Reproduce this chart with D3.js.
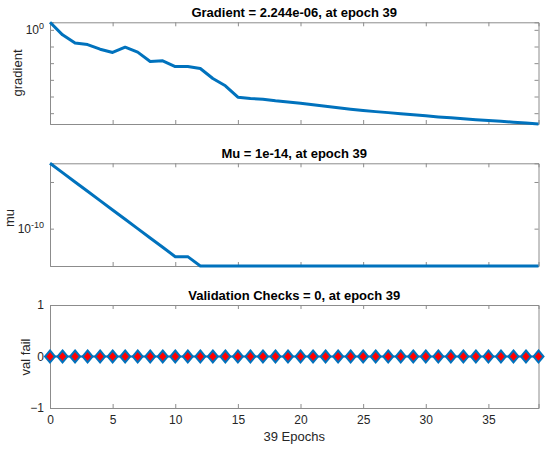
<!DOCTYPE html>
<html>
<head>
<meta charset="utf-8">
<script src="https://cdn.jsdelivr.net/npm/d3@7"></script>
<style>
body { margin: 0; background: #fff; }
text { font-family: "Liberation Sans", Arial, sans-serif; }
</style>
</head>
<body>
<svg id="chart"></svg>
<script>
// epochs 0..39
const epochs = d3.range(0, 40);

const gradient = [2.83, 0.50, 0.16, 0.13, 0.069, 0.044, 0.091, 0.046, 0.0126, 0.0138,
    0.0063, 0.0063, 0.0048, 0.0012, 4.4e-4, 9.1e-5, 7.6e-5, 6.9e-5, 5.5e-5, 4.7e-5,
    4.0e-5, 3.2e-5, 2.6e-5, 2.1e-5, 1.7e-5, 1.43e-5, 1.24e-5, 1.08e-5, 9.3e-6, 8.0e-6,
    6.9e-6, 6.0e-6, 5.3e-6, 4.7e-6, 4.1e-6, 3.7e-6, 3.3e-6, 2.9e-6, 2.6e-6, 2.244e-6];

const mu = [1e-3, 1e-4, 1e-5, 1e-6, 1e-7, 1e-8, 1e-9, 1e-10, 1e-11, 1e-12,
    1e-13, 1e-13, 1e-14, 1e-14, 1e-14, 1e-14, 1e-14, 1e-14, 1e-14, 1e-14,
    1e-14, 1e-14, 1e-14, 1e-14, 1e-14, 1e-14, 1e-14, 1e-14, 1e-14, 1e-14,
    1e-14, 1e-14, 1e-14, 1e-14, 1e-14, 1e-14, 1e-14, 1e-14, 1e-14, 1e-14];

const valFail = epochs.map(() => 0);

const xTicks = [0, 5, 10, 15, 20, 25, 30, 35];
const gradTicks = [1e0, 1e-1, 1e-2, 1e-3, 1e-4, 1e-5];
const gradLabels = {"0": true};
const muTicks = [1e-5, 1e-10];
const muLabels = {"-10": true};
const valTicks = [-1, 0, 1];

const titles = ["Gradient = 2.244e-06, at epoch 39", "Mu = 1e-14, at epoch 39", "Validation Checks = 0, at epoch 39"];

const W = 550, H = 449;
const left = 50, right = 538.5;
const blue = "#0072bd";
const axisCol = "#8c8c8c";
const textCol = "#262626";

const svg = d3.select("#chart").attr("width", W).attr("height", H);

const x = d3.scaleLinear().domain([0, 39]).range([left, right]);

function frame(top, bottom, y, yTickVals, yFmt, showXLabels) {
    const g = svg.append("g");
    // x axes top and bottom, ticks inward
    g.append("g").attr("transform", `translate(0,${bottom})`)
        .call(d3.axisBottom(x).tickValues(xTicks).tickSize(-4).tickPadding(7)
            .tickFormat(showXLabels ? d3.format("d") : () => ""));
    g.append("g").attr("transform", `translate(0,${top})`)
        .call(d3.axisTop(x).tickValues(xTicks).tickSize(-4).tickFormat(() => ""));
    const yl = g.append("g").attr("transform", `translate(${left},0)`)
        .call(d3.axisLeft(y).tickValues(yTickVals).tickSize(-4).tickPadding(6).tickFormat(yFmt));
    g.append("g").attr("transform", `translate(${right},0)`)
        .call(d3.axisRight(y).tickValues(yTickVals).tickSize(-4).tickFormat(() => ""));
    g.selectAll(".domain").attr("stroke", axisCol).attr("stroke-width", 1);
    g.selectAll(".tick line").attr("stroke", axisCol);
    g.selectAll(".tick text").attr("fill", textCol).attr("font-size", 12)
        .attr("font-family", "Liberation Sans, Arial, sans-serif");
    return yl;
}

function superLabels(g, labels) {
    g.selectAll("g.tick text").each(function(d) {
        const e = Math.round(Math.log10(d));
        const t = d3.select(this);
        t.text("");
        if (!labels[String(e)]) return;
        t.append("tspan").text("10");
        t.append("tspan").attr("dy", -5).attr("font-size", 9).text(String(e));
    });
}

function title(txt, yPos) {
    svg.append("text").attr("x", (left + right) / 2).attr("y", yPos)
        .attr("text-anchor", "middle").attr("font-weight", "bold")
        .attr("font-size", 13).attr("fill", "#000").text(txt);
}

function ylabel(txt, xPos, yPos) {
    svg.append("text").attr("transform", `translate(${xPos},${yPos}) rotate(-90)`)
        .attr("text-anchor", "middle").attr("font-size", 13).attr("fill", textCol).text(txt);
}

// panel 1: gradient
const y1 = d3.scaleLog().domain([d3.min(gradient), d3.max(gradient)]).range([124, 22.3]);
const yAx1 = frame(22.3, 124, y1, gradTicks, d => d, false);
superLabels(yAx1, gradLabels);
svg.append("path").datum(gradient)
    .attr("d", d3.line().x((d, i) => x(epochs[i])).y(d => y1(d)))
    .attr("fill", "none").attr("stroke", blue).attr("stroke-width", 3)
    .attr("stroke-linejoin", "round");
title(titles[0], 17);
ylabel("gradient", 22, 73);

// panel 2: mu
const y2 = d3.scaleLog().domain([d3.min(mu), d3.max(mu)]).range([266, 163.3]);
const yAx2 = frame(163.3, 266, y2, muTicks, d => d, false);
superLabels(yAx2, muLabels);
svg.append("path").datum(mu)
    .attr("d", d3.line().x((d, i) => x(epochs[i])).y(d => y2(d)))
    .attr("fill", "none").attr("stroke", blue).attr("stroke-width", 3);
title(titles[1], 158);
ylabel("mu", 14, 218);

// panel 3: validation checks
const y3 = d3.scaleLinear().domain([-1, 1]).range([408, 305]);
frame(305, 408, y3, valTicks, d3.format("d"), true);
svg.append("path").datum(valFail)
    .attr("d", d3.line().x((d, i) => x(epochs[i])).y(d => y3(d)))
    .attr("fill", "none").attr("stroke", blue).attr("stroke-width", 2);
svg.append("g").selectAll("path").data(valFail).join("path")
    .attr("transform", (d, i) => `translate(${x(epochs[i])},${y3(d)})`)
    .attr("d", "M0,-6L5,0L0,6L-5,0Z")
    .attr("fill", "#ff0000").attr("stroke", blue).attr("stroke-width", 2);
title(titles[2], 300);
ylabel("val fail", 30, 357);

svg.append("text").attr("x", (left + right) / 2).attr("y", 441)
    .attr("text-anchor", "middle").attr("font-size", 13).attr("fill", textCol).text("39 Epochs");
</script>
</body>
</html>
